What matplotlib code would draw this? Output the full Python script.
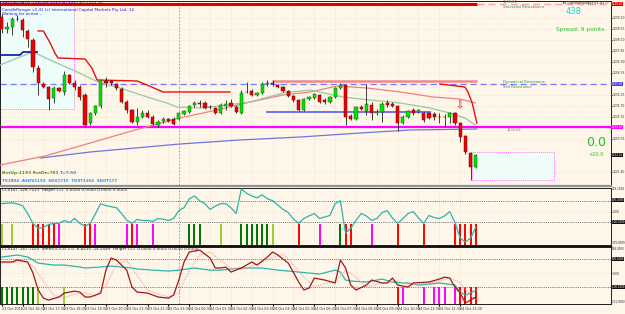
import numpy as np
import matplotlib
matplotlib.use("Agg")
import matplotlib.pyplot as plt
from matplotlib.patches import Rectangle
from matplotlib.lines import Line2D

W, H = 625, 314
BG = "#FDF6E9"

# ---- bougies XAUUSD M15 (open, close, high, low)
opens = [1239.15, 1238.55, 1238.65, 1239.05, 1239.00, 1238.45, 1238.00, 1236.60, 1235.80, 1235.65,
         1235.10, 1235.60, 1235.40, 1236.25, 1235.85, 1235.65, 1235.25, 1233.85, 1234.35, 1234.70,
         1235.95, 1235.95, 1235.80, 1235.55, 1234.90, 1234.50, 1233.90, 1234.15, 1234.35, 1234.15,
         1233.75, 1233.95, 1234.05, 1234.05, 1234.05, 1234.30, 1234.40, 1234.75, 1234.85, 1234.85,
         1234.65, 1234.60, 1234.35, 1234.70, 1234.85, 1234.65, 1234.35, 1235.40, 1235.45, 1235.25,
         1235.35, 1235.78, 1235.85, 1235.75, 1235.65, 1235.45, 1235.20, 1235.00, 1234.50, 1235.05,
         1235.10, 1235.25, 1235.00, 1234.90, 1235.15, 1235.60, 1235.75, 1234.20, 1234.05, 1234.65,
         1234.45, 1234.75, 1234.35, 1234.40, 1234.85, 1234.80, 1234.70, 1233.85, 1234.15, 1234.50,
         1234.40, 1234.35, 1234.35, 1234.30, 1234.15, 1234.15, 1234.15, 1234.35, 1233.85, 1233.20,
         1232.35, 1231.65]
closes = [1238.55, 1238.65, 1239.05, 1239.03, 1238.50, 1238.05, 1236.65, 1235.85, 1235.65, 1235.05,
          1235.60, 1235.45, 1236.25, 1235.85, 1235.65, 1235.15, 1233.75, 1234.35, 1234.70, 1236.00,
          1235.85, 1235.85, 1235.60, 1234.90, 1234.50, 1233.90, 1234.15, 1234.35, 1234.15, 1233.80,
          1233.90, 1234.05, 1233.95, 1233.80, 1234.35, 1234.45, 1234.70, 1234.85, 1234.80, 1234.60,
          1234.63, 1234.35, 1234.75, 1234.80, 1234.70, 1234.40, 1235.35, 1235.38, 1235.25, 1235.35,
          1235.80, 1235.85, 1235.78, 1235.65, 1235.45, 1235.20, 1235.00, 1234.50, 1235.05, 1235.15,
          1235.30, 1234.90, 1234.90, 1235.15, 1235.60, 1235.75, 1234.15, 1234.05, 1234.65, 1234.55,
          1234.80, 1234.35, 1234.40, 1234.80, 1234.75, 1234.70, 1233.85, 1234.15, 1234.45, 1234.35,
          1234.50, 1234.00, 1234.10, 1234.15, 1234.13, 1234.13, 1234.35, 1233.85, 1233.15, 1232.40,
          1231.65, 1232.25]
highs = [1239.30, 1238.90, 1239.15, 1239.25, 1239.10, 1238.55, 1238.10, 1236.75, 1235.90, 1235.70,
         1235.70, 1235.65, 1236.45, 1236.30, 1236.00, 1235.75, 1235.35, 1234.40, 1234.75, 1236.00,
         1236.15, 1236.00, 1235.85, 1235.65, 1235.00, 1234.55, 1234.60, 1234.50, 1234.50, 1234.25,
         1234.00, 1234.15, 1234.10, 1234.15, 1234.40, 1234.50, 1234.75, 1234.95, 1235.00, 1234.95,
         1234.75, 1234.65, 1234.85, 1235.00, 1235.05, 1234.75, 1235.50, 1235.90, 1235.55, 1235.40,
         1235.90, 1236.00, 1236.00, 1235.80, 1235.70, 1235.50, 1235.25, 1235.05, 1235.10, 1235.20,
         1235.35, 1235.30, 1235.10, 1235.20, 1235.65, 1235.85, 1235.75, 1234.30, 1234.70, 1234.75,
         1235.80, 1234.90, 1234.55, 1234.90, 1235.00, 1234.90, 1234.75, 1234.25, 1234.50, 1234.60,
         1234.55, 1234.40, 1234.40, 1234.40, 1234.35, 1234.30, 1234.40, 1234.40, 1233.90, 1233.25,
         1232.40, 1232.30]
lows = [1238.35, 1238.35, 1238.25, 1238.95, 1238.15, 1237.65, 1236.40, 1235.25, 1235.60, 1234.50,
        1234.85, 1235.40, 1235.25, 1235.80, 1235.50, 1235.00, 1233.65, 1233.75, 1234.25, 1234.60,
        1235.65, 1235.75, 1235.50, 1234.85, 1234.35, 1233.85, 1233.75, 1234.10, 1234.10, 1233.75,
        1233.65, 1233.85, 1233.90, 1233.75, 1234.00, 1234.25, 1234.35, 1234.65, 1234.65, 1234.55,
        1234.55, 1234.30, 1234.30, 1234.50, 1234.65, 1234.35, 1234.30, 1235.35, 1235.20, 1235.20,
        1235.30, 1235.70, 1235.70, 1235.60, 1235.40, 1235.15, 1234.90, 1234.45, 1234.45, 1235.00,
        1235.05, 1234.85, 1234.80, 1234.85, 1235.10, 1235.55, 1233.75, 1234.00, 1234.00, 1234.50,
        1234.25, 1234.00, 1234.25, 1233.90, 1234.65, 1234.65, 1233.45, 1233.80, 1234.10, 1234.25,
        1234.35, 1233.90, 1234.05, 1234.00, 1233.85, 1233.65, 1233.85, 1233.75, 1232.90, 1232.30,
        1231.00, 1231.60]

# ---- lignes du graphique principal (barre, prix)
band_idx = [7, 8, 9.3, 10.2, 10.8, 16, 17.3, 18.3, 26, 27.9, 31, 43.8]
band_val = [1238.45, 1238.45, 1237.85, 1237.35, 1237.10, 1237.05, 1236.60, 1236.00, 1235.95, 1235.75, 1235.40, 1235.40]
drop_idx = [84.1, 88.9, 89.5, 90.3, 91.2]
drop_val = [1235.80, 1235.65, 1235.40, 1234.85, 1233.85]
slow_idx = [-0.3, 8.3, 17.0, 25.6, 34.2, 41.3, 47.7, 54.0, 59.2, 64.4, 70.1, 76.5, 82.8, 88.0, 90.9]
slow_val = [1231.75, 1232.20, 1232.85, 1233.50, 1234.10, 1234.50, 1234.90, 1235.25, 1235.40, 1235.70,
            1235.60, 1235.40, 1235.15, 1235.05, 1234.85]
ma_idx = [-0.3, 3.5, 6.0, 9.3, 14.5, 18.9, 22.7, 28.5, 31.7, 33.6, 38.1, 41.9, 47.7, 54.0, 59.2, 65.5,
          70.7, 76.5, 82.2, 86.0, 88.9, 90.9]
ma_val = [1236.75, 1237.15, 1237.40, 1237.00, 1236.40, 1235.85, 1235.60, 1235.10, 1234.85, 1234.65,
          1234.60, 1234.70, 1234.90, 1235.35, 1235.50, 1235.15, 1235.00, 1234.85, 1234.60, 1234.35,
          1234.10, 1233.75]
dblue_idx = [-0.3, 3.5, 4.1, 6.8]
dblue_val = [1237.25, 1237.25, 1237.40, 1237.40]
long_idx = [7.4, 17.0, 25.6, 34.2, 45.7, 57.3, 68.8, 78.4, 91.2]
long_val = [1232.10, 1232.40, 1232.60, 1232.80, 1233.00, 1233.15, 1233.35, 1233.50, 1233.55]

resist_top = 1239.80
resist_dash = 1235.80
support_mag = 1233.65
resist_box = 1235.95
blue_level = 1234.40
last_price = 1232.25

# ---- CCI(14) panneau 1
cci = [73, 78, 82, 70, 55, -20, -109, -155, -145, -120,
       -109, -109, -82, -100, -64, -109, -136, -109, -18, 73,
       55, 45, 36, -18, -80, -109, -73, -82, -82, -91,
       -64, -70, -82, -64, 9, 36, 118, 145, 100, 73,
       20, 50, 73, 73, 36, -18, 209, 170, 145, 127,
       155, 118, 100, 60, 20, -9, -70, -109, -64, -40,
       -18, -64, -50, -36, 73, 100, -200, -155, -82, -18,
       -40, -82, -64, -9, 9, -60, -109, -64, -18, 0,
       -60, -109, -36, -55, -64, -40, 0, -100, -245, -282,
       -245, -145]
p2_dkgreen = [36, 37, 38, 46, 47, 48, 49, 50, 51, 65]
p2_ltgreen = [0, 2, 42, 52]
p2_red = [6, 7, 8, 9, 10, 16, 17, 25, 57, 66, 67, 76, 81, 87, 88, 89, 90, 91]
p2_mag = [11, 18, 24, 26, 29, 61, 71]

# ---- CCI lissé panneau 2
t3_idx = [0, 3, 5, 6, 7, 10, 12, 15, 16, 19, 21, 23, 25, 26, 29, 32, 34, 37, 40, 42,
          46, 50, 53, 57, 61, 64, 65, 66, 67, 70, 73, 75, 77, 78, 80, 84, 87, 88, 89, 90, 91]
t3_val = [114, 129, 114, 93, 71, 57, 57, 43, 36, 43, 50, 43, 36, 29, 21, 14, 21, 36, 21, 21,
          36, 36, 21, 7, -7, 21, 7, -50, -57, -64, -43, -64, -71, -71, -86, -71, -86, -136, -157, -143, -121]
r3_idx = [0, 2, 3, 5, 6, 7, 8, 9, 11, 12, 14, 15, 16, 17, 19, 20, 21, 22, 24, 25, 26, 28, 30, 32, 33,
          34, 35, 36, 38, 40, 41, 42, 43, 44, 46, 48, 49, 51, 52, 53, 55, 57, 58, 59, 60, 62, 64, 65,
          66, 67, 68, 70, 71, 73, 74, 75, 76, 78, 79, 82, 84, 85, 86, 87, 88, 89, 90, 91]
r3_val = [79, 79, 93, 79, 0, -121, -179, -193, -171, -143, -129, -136, -171, -171, -143, 21, 107, 93, 21,
          -100, -136, -143, -171, -179, -157, -50, 79, 150, 164, 107, 36, 36, 43, 7, 36, 79, 57, 114, 150,
          129, 71, -64, -121, -107, -36, -50, -71, 93, 36, -86, -121, -86, -50, -71, -71, -36, -86, -100,
          -71, -64, -43, -29, -36, -100, -143, -214, -193, -171]
s3_idx = [0, 2, 4, 6, 8, 10, 12, 14, 16, 18, 20, 22, 24, 26, 28, 30, 32, 34, 36, 38, 40, 42, 44, 46,
          48, 50, 52, 54, 56, 58, 60, 62, 64, 66, 68, 70, 72, 74, 76, 78, 80, 82, 84, 86, 88, 90, 91]
s3_val = [70, 75, 85, 50, -60, -160, -175, -150, -140, -165, -90, 60, 90, -20, -120, -150, -170, -140,
          20, 130, 150, 90, 35, 25, 50, 75, 110, 135, 60, -30, -100, -75, -60, 20, -30, -100, -80, -65,
          -55, -85, -80, -70, -55, -35, -70, -160, -190]
p3_dkgreen = [0, 1, 2, 3, 4, 5, 6]
p3_ltgreen = [7, 12]
p3_red = [76, 88, 89, 90, 91]
p3_mag = [77, 81, 83, 84, 85, 87]

date_labels = ["23 Oct 2018", "23 Oct 16:30", "23 Oct 17:30", "23 Oct 18:30", "23 Oct 19:30",
               "23 Oct 20:30", "23 Oct 21:30", "23 Oct 22:30", "23 Oct 23:30", "24 Oct 00:30",
               "24 Oct 01:30", "24 Oct 02:30", "24 Oct 03:30", "24 Oct 04:30", "24 Oct 05:30",
               "24 Oct 06:30", "24 Oct 07:30", "24 Oct 08:30", "24 Oct 09:30", "24 Oct 10:30",
               "24 Oct 11:30", "24 Oct 12:30", "24 Oct 13:30"]


def fx(x):
    return x / W


def fy(y):
    return 1 - y / H


fig = plt.figure(figsize=(W / 100, H / 100), dpi=100, facecolor=BG)
XL = (-0.33, 116.95)
GRID = "#E9DDCB"
TICK_FS = 2.15

ax1 = fig.add_axes([0, fy(185), fx(611), 184 / H])
ax2 = fig.add_axes([0, fy(245), fx(611), 57 / H])
ax3 = fig.add_axes([0, fy(304), fx(611), 57 / H])

for ax in (ax1, ax2, ax3):
    ax.set_facecolor(BG)
    ax.set_xlim(*XL)
    ax.yaxis.tick_right()
    ax.tick_params(axis="y", labelsize=TICK_FS, length=1.0, pad=0.4, colors="#303030")
    ax.tick_params(axis="x", length=0)
    for s in ax.spines.values():
        s.set_color("#202020")
        s.set_linewidth(0.7)
    for t in range(0, 92, 4):
        ax.axvline(t, color=GRID, lw=0.5, ls=(0, (1, 1.5)), zorder=0)
    ax.axvline(34.1, color="#909090", lw=0.6, ls=(0, (2, 2)), zorder=1)

# ---- graphique principal
ax1.set_ylim(1230.75, 1239.95)
tags = [resist_top, resist_dash, support_mag, last_price]
yt = [v for v in np.round(np.arange(1231.40, 1239.2, 0.55), 2) if min(abs(v - t) for t in tags) > 0.3]
ax1.set_yticks(yt)
ax1.set_yticklabels(["%.2f" % v for v in yt])
ax1.set_xticks([])
for v in yt:
    ax1.axhline(v, color=GRID, lw=0.5, ls=(0, (1, 1.5)), zorder=0)

ax1.add_patch(Rectangle((XL[0], 1234.55), 13.9 - XL[0], 1239.9 - 1234.55, facecolor="#EEFDF9",
                        edgecolor="#FF77FF", lw=0.7, ls=(0, (1, 1)), zorder=1))
ax1.add_patch(Rectangle((90.3, 1231.0), 106 - 90.3, 1232.4 - 1231.0, facecolor="#EEFDF9",
                        edgecolor="#FF77FF", lw=0.7, ls=(0, (1, 1)), zorder=1))

ax1.plot([XL[0], 91.2], [resist_top] * 2, color="#E00000", lw=2.2, solid_capstyle="butt", zorder=3)
ax1.plot([91.2, XL[1]], [resist_top] * 2, color="#F4A0A0", lw=1.0, ls=(0, (5, 3)), zorder=3)
ax1.axhline(resist_dash, color="#7878F8", lw=0.9, ls=(0, (5, 3)), zorder=2)
ax1.axhline(support_mag, color="#FF00FF", lw=1.6, zorder=2)
ax1.plot([51.9, 91.2], [resist_box] * 2, color="#F08888", lw=1.8, solid_capstyle="butt", zorder=3)
ax1.plot([50.9, 82.2], [blue_level] * 2, color="#6666F0", lw=1.3, zorder=3)

ax1.plot(long_idx, long_val, color="#7474D8", lw=0.9, zorder=3)
ax1.plot(slow_idx, slow_val, color="#F08080", lw=0.9, zorder=3)
ax1.plot(ma_idx, ma_val, color="#98C8A0", lw=0.9, zorder=3)
ax1.plot(dblue_idx, dblue_val, color="#1010A0", lw=1.2, zorder=3)
ax1.plot(band_idx, band_val, color="#E81010", lw=1.0, zorder=3)
ax1.plot(drop_idx, drop_val, color="#E81010", lw=1.0, zorder=3)

o = np.array(opens)
c = np.array(closes)
idx = np.arange(len(o))
up = c >= o
ax1.vlines(idx, lows, highs, color="#202020", lw=0.6, zorder=4)
ax1.bar(idx[up], np.maximum((c - o)[up], 0.02), bottom=o[up], width=0.62, color="#00E400",
        edgecolor="#1B5E1B", lw=0.35, zorder=5)
ax1.bar(idx[~up], (c - o)[~up], bottom=o[~up], width=0.62, color="#EE0000",
        edgecolor="#6A0C0C", lw=0.35, zorder=5)
ax1.text(87.9, 1234.75, "\u21e9", color="#E00000", fontsize=7, ha="center", va="center", zorder=6)

# ---- CCI panneau 1
ax2.set_ylim(-309, 218)
ax2.set_xticks([])
ax2.set_yticks([0])
ax2.set_yticklabels(["0.00"])
ax2.axhline(100, color="#707070", lw=0.7, ls=(0, (1, 1.2)), zorder=1)
ax2.axhline(-100, color="#707070", lw=0.7, ls=(0, (1, 1.2)), zorder=1)
ax2.axhline(0, color=GRID, lw=0.5, ls=(0, (1, 1.5)), zorder=0)
for lst, col in ((p2_dkgreen, "#007000"), (p2_ltgreen, "#9ACD32"), (p2_red, "#FF0000"), (p2_mag, "#FF00FF")):
    ax2.vlines(lst, -309, -115, color=col, lw=1.4, zorder=2)
ax2.plot(idx, cci, color="#2AB5AD", lw=0.9, zorder=3)

# ---- CCI lissé panneau 2
ax3.set_ylim(-221, 186)
ax3.set_yticks([0])
ax3.set_yticklabels(["0.00"])
ax3.axhline(100, color="#707070", lw=0.7, ls=(0, (1, 1.2)), zorder=1)
ax3.axhline(-100, color="#707070", lw=0.7, ls=(0, (1, 1.2)), zorder=1)
ax3.axhline(0, color=GRID, lw=0.5, ls=(0, (1, 1.5)), zorder=0)
for lst, col in ((p3_dkgreen, "#007000"), (p3_ltgreen, "#9ACD32"), (p3_red, "#FF0000"), (p3_mag, "#FF00FF")):
    ax3.vlines(lst, -221, -100, color=col, lw=1.4, zorder=2)
ax3.plot(t3_idx, t3_val, color="#2AB5AD", lw=0.9, zorder=3)
ax3.plot(s3_idx, s3_val, color="#FF9C9C", lw=0.8, ls=(0, (1, 1)), zorder=4)
ax3.plot(r3_idx, r3_val, color="#A01818", lw=0.9, zorder=5)
ax3.set_xticks(range(0, 92, 4))
ax3.set_xticklabels(date_labels, fontsize=2.4, color="#303030")
for lbl in ax3.get_xticklabels():
    lbl.set_ha("left")
ax3.tick_params(axis="x", length=1.2, pad=0.8)

# ---- séparateurs
fig.add_artist(Line2D([0, fx(611)], [fy(185.8)] * 2, color="#909090", lw=1.6))
fig.add_artist(Line2D([0, fx(611)], [fy(245.5)] * 2, color="#101010", lw=1.0))

# ---- textes
small = dict(fontsize=3.0, va="center")
fig.text(fx(2), fy(3), "XAUUSD,M15  1231.65 1232.30 1231.60 1232.25", color="#202020", **small)
fig.text(fx(2), fy(9.5), "CandleRanger v1.41 (c) International Capital Markets Pty Ltd. 12", color="#2020D0", **small)
fig.text(fx(2), fy(14.5), "Waiting for action...", color="#2020D0", **small)
fig.text(fx(2), fy(173), "BetUp:1193 RetDn:781", color="#5E8E10", fontsize=3.2, va="center", weight="bold")
fig.text(fx(60), fy(173), "T=T:50", color="#1E90FF", fontsize=3.2, va="center", weight="bold")
fig.text(fx(2), fy(181), "TV1804  ASDV1193  SDV1715  TD0T1356  SD0T177", color="#1E90FF",
         fontsize=2.9, va="center", weight="bold")
fig.text(fx(2), fy(190), "CCI(14) -128.7213  Helper CCI  0.0000 0.0000 0.0000 0.0000", color="#202020", **small)
fig.text(fx(2), fy(249), "CCI(14) -147.7223  Smth(3,3,3) 1.0 -8.8215 -14.2589  Helper CCI  0.0000 0.0000 0.0000 0.0000",
         color="#202020", **small)

fig.text(fx(503), fy(2.3), "1239.80", color="#707070", fontsize=2.6, va="center")
fig.text(fx(503), fy(7.5), "Selected Resistance", color="#2E8B57", **small)
fig.text(fx(609), fy(3), "Tr4 CandleRanger v1.41 \u00a9", color="#202020", ha="right", fontsize=2.6, va="center")
fig.text(fx(574), fy(12), "438", color="#20D0D8", fontsize=6, ha="center", va="center")
fig.text(fx(556), fy(30), "Spread: 9 points.", color="#32B832", fontsize=4.2, va="center")
fig.text(fx(503), fy(82), "Dynamical Resistance", color="#2E8B57", fontsize=2.7, va="center")
fig.text(fx(503), fy(87.5), "Sell Resistance", color="#2E8B57", fontsize=2.7, va="center")
fig.text(fx(507), fy(129.5), "1233.65", color="#707070", fontsize=2.6, va="center")
fig.text(fx(596), fy(143), "0.0", color="#22C022", fontsize=9, ha="center", va="center")
fig.text(fx(596), fy(154), "+20.0", color="#22C022", fontsize=3.6, ha="center", va="center")

# étiquettes de prix et de niveaux à droite
for yy, txt, col in ((4, "1239.80", "#E00000"), (84, "1235.80", "#4040E0"),
                     (127, "1233.65", "#FF00FF"), (155, "1232.25", "#101010"),
                     (200, "100.0000", "#101010"), (222, "-100.0000", "#101010"),
                     (259, "100.0000", "#101010"), (287, "-100.0000", "#101010")):
    fig.text(fx(611.5), fy(yy), txt, color="white", fontsize=2.0, va="center",
             bbox=dict(boxstyle="square,pad=0.1", fc=col, ec="none"))
for yy, txt in ((189, "218.1818"), (243, "-309.0909"), (249, "186.0000"), (302, "-221.0000")):
    fig.text(fx(611.5), fy(yy), txt, color="#303030", fontsize=2.0, va="center")

fig.savefig("out.png", dpi=100, facecolor=BG)
